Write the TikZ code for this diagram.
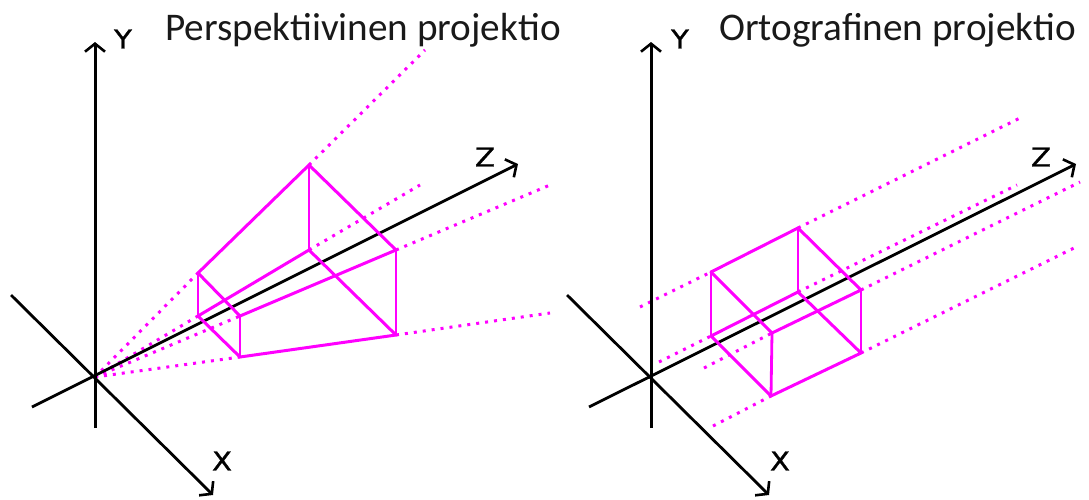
\documentclass[tikz,border=0pt]{standalone}
\usepackage{fontspec}
\setmainfont{Carlito}
\newfontfamily\axfont[FakeBold=1.2,FakeStretch=1.12]{DejaVu Sans}
\usetikzlibrary{arrows.meta}
\definecolor{puremag}{RGB}{255,0,255}
\tikzset{
  axis/.style={line width=2.8pt,black},
  vaxis/.style={line width=3pt,black},
  axisarrow/.style={-{Straight Barb[length=8pt,width=20pt,line width=2.6pt]}},
  edge/.style={line width=3pt,puremag,line cap=round,line join=round},
  thinedge/.style={line width=2.8pt,puremag,line cap=round},
  ray/.style={line width=3pt,puremag,dash pattern=on 3pt off 6pt},
  title/.style={font=\fontsize{39.2}{44}\selectfont,text=black!90,inner sep=0pt,anchor=west},
  axlabel/.style={font=\axfont\fontsize{26}{30}\selectfont,inner sep=0pt}
}
\begin{document}
\begin{tikzpicture}[x=1pt,y=-1pt]
\useasboundingbox (0,0) rectangle (1089,499);
% --- left panel
\coordinate (o1) at (95,377);
\coordinate (y1t) at (95,42);
\coordinate (y1b) at (95,428);
\coordinate (x1s) at (11,295);
\coordinate (x1e) at (213,495);
\coordinate (z1s) at (32,407);
\coordinate (z1e) at (518,164);
\coordinate (a1) at (309,165);
\coordinate (b1) at (396,250);
\coordinate (c1) at (309,250);
\coordinate (d1) at (396,335);
\coordinate (e1) at (198,273);
\coordinate (f1) at (198,316);
\coordinate (g1) at (240,316);
\coordinate (h1) at (240,357);
\coordinate (ra1) at (425,50);
\coordinate (rc1) at (420,185);
\coordinate (rb1) at (550,185);
\coordinate (rd1) at (550,313);
\draw[ray] (o1) -- (e1);
\draw[ray] (o1) -- (f1);
\draw[ray] (o1) -- (g1);
\draw[ray] (o1) -- (h1);
\draw[ray] (a1) -- (ra1);
\draw[ray] (c1) -- (rc1);
\draw[ray] (b1) -- (rb1);
\draw[ray] (d1) -- (rd1);
\draw[vaxis,axisarrow] (y1b) -- (y1t);
\draw[axis,axisarrow] (x1s) -- (x1e);
\draw[axis,axisarrow] (z1s) -- (z1e);
\draw[edge] (e1) -- (a1) -- (b1) -- (g1);
\draw[edge] (c1) -- (f1) -- (h1) -- (d1) -- (c1);
\draw[edge] (e1) -- (g1);
\draw[thinedge] (a1) -- (c1);
\draw[thinedge] (b1) -- (d1);
\draw[thinedge] (e1) -- (f1);
\draw[thinedge] (g1) -- (h1);
\node[axlabel] (ly1) at (123,39) {Y};
\node[axlabel] (lx1) at (222,461) {X};
\node[axlabel] (lz1) at (485,157) {Z};
\node[title] (t1) at (165,30) {Perspektiivinen projektio};
% --- right panel
\coordinate (o2) at (651,377);
\coordinate (y2t) at (651,42);
\coordinate (y2b) at (651,428);
\coordinate (x2s) at (567,295);
\coordinate (x2e) at (769,495);
\coordinate (z2s) at (589,407);
\coordinate (z2e) at (1076,164);
\coordinate (a2) at (798,228);
\coordinate (b2) at (861,290);
\coordinate (c2) at (798,292);
\coordinate (d2) at (861,353);
\coordinate (e2) at (711,272);
\coordinate (f2) at (711,336);
\coordinate (g2) at (772,333);
\coordinate (h2) at (771,396);
\coordinate (re2) at (640,307);
\coordinate (rf2) at (659,362);
\coordinate (rg2) at (704,368);
\coordinate (rh2) at (713,426);
\coordinate (ra2) at (1022,117);
\coordinate (rc2) at (1017,185);
\coordinate (rb2) at (1080,182);
\coordinate (rd2) at (1078,246);
\draw[ray] (re2) -- (e2);
\draw[ray] (rf2) -- (f2);
\draw[ray] (rg2) -- (g2);
\draw[ray] (rh2) -- (h2);
\draw[ray] (a2) -- (ra2);
\draw[ray] (c2) -- (rc2);
\draw[ray] (b2) -- (rb2);
\draw[ray] (d2) -- (rd2);
\draw[vaxis,axisarrow] (y2b) -- (y2t);
\draw[axis,axisarrow] (x2s) -- (x2e);
\draw[axis,axisarrow] (z2s) -- (z2e);
\draw[edge] (e2) -- (a2) -- (b2) -- (g2);
\draw[edge] (c2) -- (f2) -- (h2) -- (d2) -- (c2);
\draw[edge] (e2) -- (g2);
\draw[thinedge] (a2) -- (c2);
\draw[thinedge] (b2) -- (d2);
\draw[thinedge] (e2) -- (f2);
\draw[thinedge] (g2) -- (h2);
\node[axlabel] (ly2) at (680,39) {Y};
\node[axlabel] (lx2) at (780,461) {X};
\node[axlabel] (lz2) at (1041,157) {Z};
\node[title] (t2) at (719,30) {Ortografinen projektio};
\end{tikzpicture}
\end{document}
